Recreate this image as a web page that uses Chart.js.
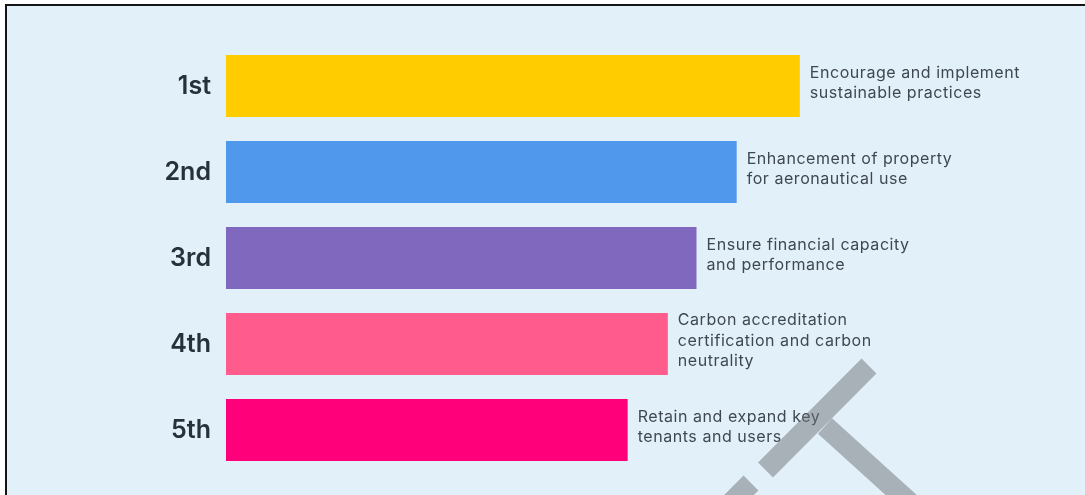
<!DOCTYPE html>
<html>
<head>
<meta charset="utf-8">
<script src="https://cdn.jsdelivr.net/npm/chart.js@4"></script>
<style>
    body {
        margin: 0;
        background: #ffffff;
        overflow: hidden;
    }
    .marco {
        position: absolute;
        left: 5px;
        top: 4px;
        width: 1100px;
        height: 520px;
        background: #e2f0fa;
        border-top: 2px solid #151515;
        border-left: 2px solid #151515;
    }
    .lienzo {
        position: absolute;
        left: 0;
        top: 0;
        width: 1085px;
        height: 495px;
    }
</style>
</head>
<body>
<div class="marco"></div>
<div class="lienzo">
    <canvas id="grafico-prioridades"></canvas>
</div>
<script>
const rangos = ['1st', '2nd', '3rd', '4th', '5th']
const puntajes = [100, 89, 82, 77, 70]
const prioridades = [
    ['Encourage and implement', 'sustainable practices'],
    ['Enhancement of property', 'for aeronautical use'],
    ['Ensure financial capacity', 'and performance'],
    ['Carbon accreditation', 'certification and carbon', 'neutrality'],
    ['Retain and expand key', 'tenants and users']
]
const colores = ['#ffcc00', '#4f98ec', '#7f68bd', '#ff5b8c', '#ff007a']

// texto descriptivo a la derecha de cada barra
const etiquetasPrioridad = {
    id: 'etiquetasPrioridad',
    afterDatasetsDraw(chart) {
        const ctx = chart.ctx
        const barras = chart.getDatasetMeta(0).data
        ctx.save()
        ctx.font = '16px Inter'
        ctx.letterSpacing = '0.55px'
        ctx.fillStyle = '#3f4852'
        ctx.textAlign = 'left'
        ctx.textBaseline = 'middle'
        barras.forEach((barra, i) => {
            const lineas = prioridades[i]
            lineas.forEach((linea, j) => {
                const y = barra.y + (j - (lineas.length - 1) / 2) * 20.5 - 3
                ctx.fillText(linea, barra.x + 10, y)
            })
        })
        ctx.restore()
    }
}

// marca de agua gris encima del grafico
const marcaAgua = {
    id: 'marcaAgua',
    afterDraw(chart) {
        const ctx = chart.ctx
        ctx.save()
        ctx.strokeStyle = 'rgba(110, 112, 115, 0.485)'
        ctx.lineWidth = 21
        ctx.lineCap = 'butt'
        ctx.beginPath()
        ctx.moveTo(869, 366)
        ctx.lineTo(765.5, 470)
        ctx.moveTo(751, 483)
        ctx.lineTo(730, 504)
        ctx.moveTo(825, 426)
        ctx.lineTo(910, 503)
        ctx.stroke()
        ctx.restore()
    }
}

function crearGraficoPrioridades() {
    const ctx = document.getElementById('grafico-prioridades').getContext('2d')
    new Chart(ctx, {
        type: 'bar',
        data: {
            labels: rangos,
            datasets: [{
                data: puntajes,
                backgroundColor: colores,
                borderWidth: 0,
                barPercentage: 0.72,
                categoryPercentage: 1
            }]
        },
        options: {
            indexAxis: 'y',
            responsive: true,
            maintainAspectRatio: false,
            animation: false,
            layout: {
                autoPadding: false,
                padding: {
                    top: 43,
                    bottom: 22,
                    left: 0,
                    right: 27
                }
            },
            plugins: {
                legend: {
                    display: false
                },
                title: {
                    display: false
                },
                tooltip: {
                    enabled: false
                }
            },
            scales: {
                x: {
                    display: false,
                    min: 0,
                    max: 145
                },
                y: {
                    afterFit(scale) {
                        // ancho fijo para las etiquetas y sin relleno extra arriba/abajo
                        scale.width = 226
                        scale.paddingTop = 0
                        scale.paddingBottom = 0
                    },
                    grid: {
                        display: false,
                        drawTicks: false
                    },
                    border: {
                        display: false
                    },
                    ticks: {
                        padding: 15,
                        color: '#27313b',
                        font: {
                            family: 'Inter',
                            size: 25,
                            weight: '600'
                        }
                    }
                }
            }
        },
        plugins: [etiquetasPrioridad, marcaAgua]
    })
}

crearGraficoPrioridades()
</script>
</body>
</html>
